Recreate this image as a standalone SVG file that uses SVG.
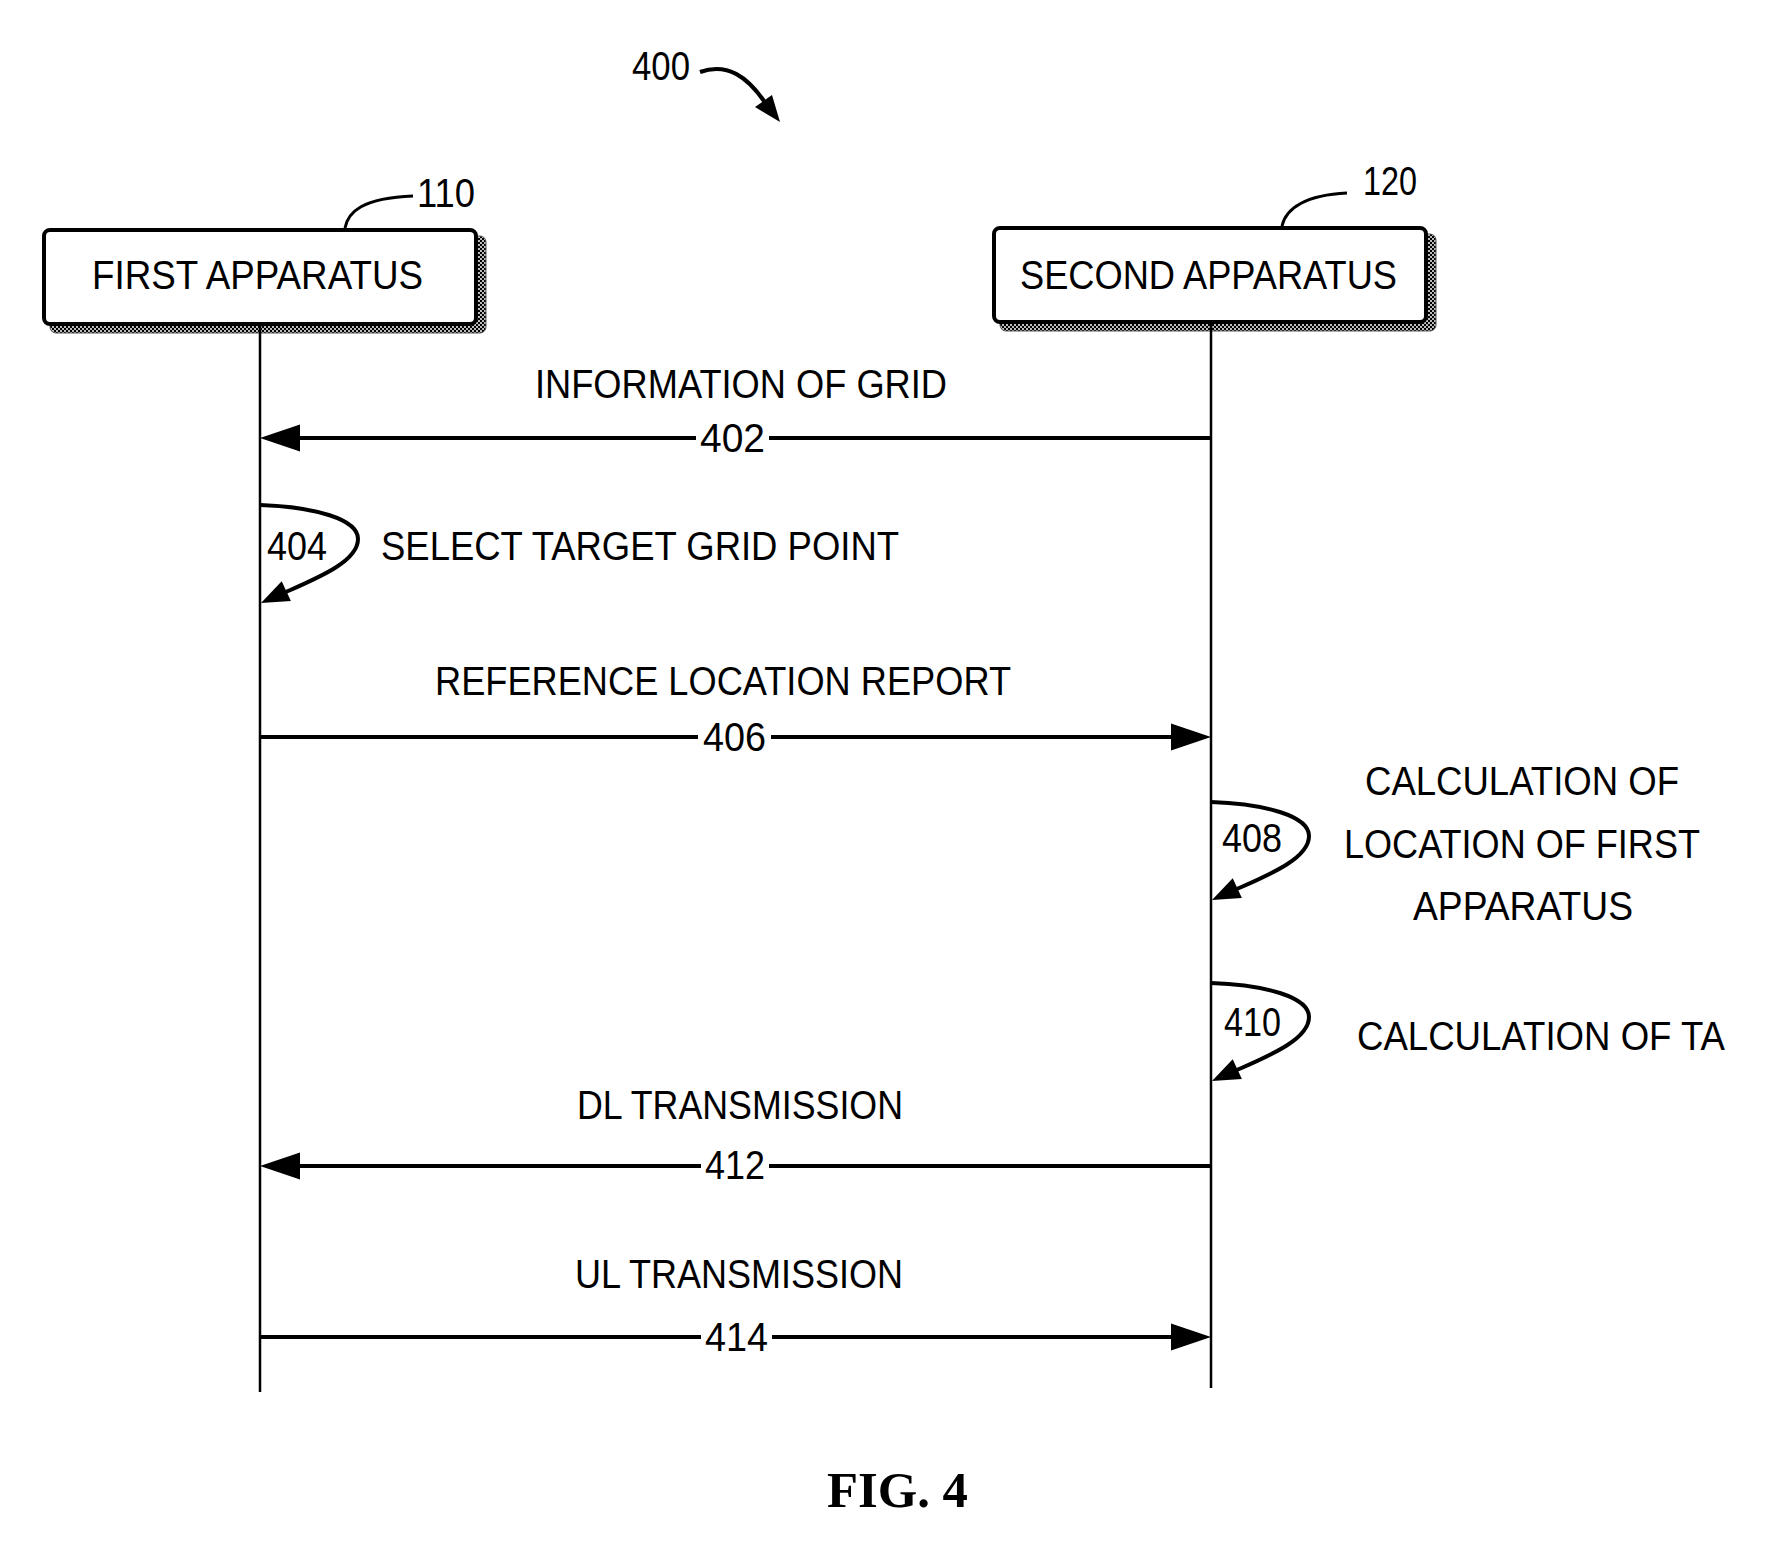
<svg xmlns="http://www.w3.org/2000/svg" width="1773" height="1547" viewBox="0 0 1773 1547">
<style>
text{font-family:"Liberation Sans",Arial,sans-serif;font-size:41px;fill:#000}
.fig{font-family:"Liberation Serif","Times New Roman",serif;font-weight:bold;font-size:50px}
.box{fill:#fff;stroke:#000;stroke-width:4}
.shadow{fill:url(#hatch);stroke:#555;stroke-width:1}
.life{stroke:#000;stroke-width:2.5;fill:none}
.msg{stroke:#000;stroke-width:4;fill:none}
.loop{stroke:#000;stroke-width:4;fill:none}
.lead{stroke:#000;stroke-width:3;fill:none}
.head{fill:#000}
.gap{fill:#fff}
</style>
<defs>
<pattern id="hatch" width="4" height="4" patternUnits="userSpaceOnUse">
<rect width="4" height="4" fill="#bbb"/>
<rect width="2" height="2" fill="#000"/>
<rect x="2" y="2" width="2" height="2" fill="#000"/>
</pattern>
<g id="selfloop">
<path class="loop" d="M0,0 C55,2 98,14 98,34 C98,56 60,72 26,87"/>
<polygon class="head" points="1,98 21.7,76.3 30.9,96.1"/>
</g>
</defs>

<g id="title">
<text x="632" y="80" textLength="58" lengthAdjust="spacingAndGlyphs">400</text>
<path class="loop" d="M700,72 C728,62 748,78 764,101"/>
<polygon class="head" points="780,122 755,107 772,95"/>
</g>

<g id="node-110">
<rect class="shadow" x="50" y="236" width="436" height="97" rx="6"/>
<rect class="box" x="44" y="230" width="432" height="94" rx="6"/>
<text x="92" y="289" textLength="331" lengthAdjust="spacingAndGlyphs">FIRST APPARATUS</text>
<path class="lead" d="M345,228 C348,212 362,198 413,196"/>
<text x="417" y="207" textLength="58" lengthAdjust="spacingAndGlyphs">110</text>
</g>

<g id="node-120">
<rect class="shadow" x="1000" y="234" width="436" height="97" rx="6"/>
<rect class="box" x="994" y="228" width="432" height="94" rx="6"/>
<text x="1020" y="289" textLength="377" lengthAdjust="spacingAndGlyphs">SECOND APPARATUS</text>
<path class="lead" d="M1282,226 C1286,208 1306,195 1347,193"/>
<text x="1363" y="195" textLength="54" lengthAdjust="spacingAndGlyphs">120</text>
</g>

<g id="connectors">
<line class="life" x1="260" y1="326" x2="260" y2="1392"/>
<line class="life" x1="1211" y1="324" x2="1211" y2="1388"/>

<line class="msg" x1="1211" y1="438" x2="296" y2="438"/>
<polygon class="head" points="260,438 300,424.5 300,451.5"/>
<rect class="gap" x="696" y="432" width="73" height="12"/>

<line class="msg" x1="260" y1="737" x2="1175" y2="737"/>
<polygon class="head" points="1211,737 1171,723.5 1171,750.5"/>
<rect class="gap" x="698" y="731" width="73" height="12"/>

<line class="msg" x1="1211" y1="1166" x2="296" y2="1166"/>
<polygon class="head" points="260,1166 300,1152.5 300,1179.5"/>
<rect class="gap" x="701" y="1160" width="68" height="12"/>

<line class="msg" x1="260" y1="1337" x2="1175" y2="1337"/>
<polygon class="head" points="1211,1337 1171,1323.5 1171,1350.5"/>
<rect class="gap" x="701" y="1331" width="71" height="12"/>

<use href="#selfloop" transform="translate(260,505)"/>
<use href="#selfloop" transform="translate(1211,802)"/>
<use href="#selfloop" transform="translate(1211,983)"/>
</g>

<g id="labels">
<text x="535" y="398" textLength="412" lengthAdjust="spacingAndGlyphs">INFORMATION OF GRID</text>
<text x="700" y="452" textLength="65" lengthAdjust="spacingAndGlyphs">402</text>
<text x="267" y="560" textLength="60" lengthAdjust="spacingAndGlyphs">404</text>
<text x="381" y="560" textLength="518" lengthAdjust="spacingAndGlyphs">SELECT TARGET GRID POINT</text>
<text x="435" y="695" textLength="576" lengthAdjust="spacingAndGlyphs">REFERENCE LOCATION REPORT</text>
<text x="703" y="751" textLength="63" lengthAdjust="spacingAndGlyphs">406</text>
<text x="1222" y="852" textLength="60" lengthAdjust="spacingAndGlyphs">408</text>
<text x="1365" y="795" textLength="314" lengthAdjust="spacingAndGlyphs">CALCULATION OF</text>
<text x="1344" y="858" textLength="356" lengthAdjust="spacingAndGlyphs">LOCATION OF FIRST</text>
<text x="1413" y="920" textLength="220" lengthAdjust="spacingAndGlyphs">APPARATUS</text>
<text x="1224" y="1036" textLength="57" lengthAdjust="spacingAndGlyphs">410</text>
<text x="1357" y="1050" textLength="368" lengthAdjust="spacingAndGlyphs">CALCULATION OF TA</text>
<text x="577" y="1119" textLength="326" lengthAdjust="spacingAndGlyphs">DL TRANSMISSION</text>
<text x="705" y="1179" textLength="60" lengthAdjust="spacingAndGlyphs">412</text>
<text x="575" y="1288" textLength="328" lengthAdjust="spacingAndGlyphs">UL TRANSMISSION</text>
<text x="705" y="1351" textLength="63" lengthAdjust="spacingAndGlyphs">414</text>
<text class="fig" x="827" y="1507" textLength="141" lengthAdjust="spacingAndGlyphs">FIG. 4</text>
</g>
</svg>
